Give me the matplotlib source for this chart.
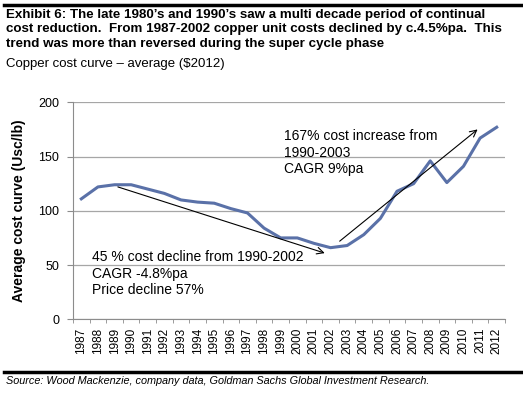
import matplotlib
matplotlib.use("Agg")
import matplotlib.pyplot as plt
import numpy as np

# Copper cost curve - average ($2012), Usc/lb
years = [str(y) for y in range(1987, 2013)]
cost = [111, 122, 124, 124, 120, 116, 110, 108, 107, 102, 98, 84, 75, 75,
        70, 66, 68, 78, 93, 118, 125, 146, 126, 141, 167, 177]
yticks = [0, 50, 100, 150, 200]

TITLE = ("Exhibit 6: The late 1980\u2019s and 1990\u2019s saw a multi decade period of continual\n"
         "cost reduction.  From 1987-2002 copper unit costs declined by c.4.5%pa.  This\n"
         "trend was more than reversed during the super cycle phase")
SUBTITLE = "Copper cost curve \u2013 average ($2012)"
SOURCE = "Source: Wood Mackenzie, company data, Goldman Sachs Global Investment Research."

plt.rcParams["font.family"] = ["Liberation Sans", "DejaVu Sans"]

fig = plt.figure(figsize=(5.23, 3.94), dpi=100)
ax = fig.add_axes([0.1396, 0.1896, 0.826, 0.5508])

x = np.arange(len(years))
ax.plot(x, cost, color="#5a71a8", lw=2.2, solid_joinstyle="round")

ax.set_xlim(-0.5, len(years) - 0.5)
ax.set_ylim(0, 200)
ax.set_yticks(yticks)
ax.set_yticklabels([str(v) for v in yticks], fontsize=9)
ax.yaxis.grid(True, color="#a6a6a6", lw=0.9)
ax.set_axisbelow(True)

ax.set_xticks(x)
ax.set_xticklabels(years, rotation=90, fontsize=8.5)
ax.tick_params(axis="x", which="major", length=0, pad=6)
ax.set_xticks(np.arange(-0.5, len(years)), minor=True)
ax.tick_params(axis="x", which="minor", length=3, color="#8c8c8c")
ax.tick_params(axis="y", length=4, color="#8c8c8c", pad=6)

for side in ("top", "right"):
    ax.spines[side].set_visible(False)
for side in ("left", "bottom"):
    ax.spines[side].set_color("#8c8c8c")

ax.set_ylabel("Average cost curve (Usc/lb)", fontsize=10, fontweight="bold", labelpad=9)

# trend arrows
arrow = dict(arrowstyle="->", color="black", lw=0.8, shrinkA=0, shrinkB=0,
             mutation_scale=12)
ax.annotate("", xy=(14.65, 61), xytext=(2.2, 122), arrowprops=arrow)
ax.annotate("", xy=(23.85, 175), xytext=(15.55, 72), arrowprops=arrow)

ax.text(0.65, 63.5, "45 % cost decline from 1990-2002\nCAGR -4.8%pa\nPrice decline 57%",
        fontsize=10, va="top", ha="left", linespacing=1.2)
ax.text(12.2, 175, "167% cost increase from\n1990-2003\nCAGR 9%pa",
        fontsize=10, va="top", ha="left", linespacing=1.2)

# header / footer
fig.add_artist(plt.Line2D([0.008, 1.0], [0.987, 0.987], color="black", lw=2.5))
fig.text(0.012, 0.978, TITLE, fontsize=9.6, fontweight="bold", va="top", ha="left",
         linespacing=1.28)
fig.text(0.012, 0.853, SUBTITLE, fontsize=9.5, va="top", ha="left")
fig.add_artist(plt.Line2D([0.008, 1.0], [0.056, 0.056], color="black", lw=2.5))
fig.text(0.011, 0.032, SOURCE, fontsize=7.8, style="italic", va="center", ha="left")

fig.savefig("out.png", dpi=100)
